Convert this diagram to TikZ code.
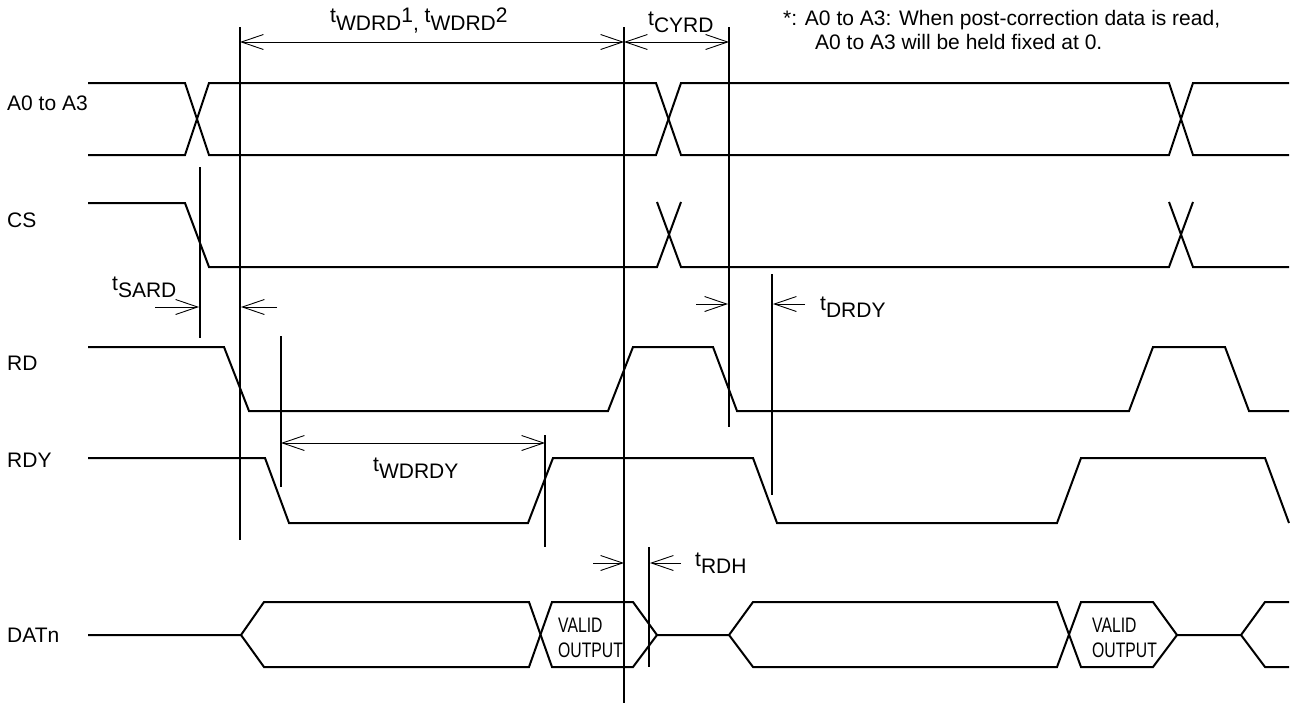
\documentclass[tikz,border=0pt]{standalone}
\usepackage{fontspec}
\setmainfont{Liberation Sans}
\newfontfamily\narrowfont[FakeStretch=0.75]{Liberation Sans}
\usetikzlibrary{arrows.meta}
\newcommand{\tsub}[1]{t\raisebox{-7pt}{#1}}
\begin{document}
\begin{tikzpicture}[x=1pt,y=-1pt,
  sig/.style={line width=2pt, line join=miter},
  guide/.style={line width=1.2pt},
  barb/.tip={Straight Barb[length=22pt,width=15pt]},
  dim/.style={line width=0.9pt, -barb},
  dimboth/.style={line width=0.9pt, barb-barb},
  lbl/.style={anchor=base west, inner sep=0pt, font=\fontsize{21}{25}\selectfont},
  vlbl/.style={anchor=base west, inner sep=0pt, font=\narrowfont\fontsize{21}{24}\selectfont},
  ]
\useasboundingbox (0,0) rectangle (1296,704);

% signal names
\node[lbl] (nA) at (7,110) {A0 to A3};
\node[lbl] (nCS) at (7,227) {CS};
\node[lbl] (nRD) at (7,370) {RD};
\node[lbl] (nRDY) at (7,467) {RDY};
\node[lbl] (nDAT) at (7,642) {DATn};

% A0 to A3
\draw[sig] (88,83) -- (185,83) -- (209,155) -- (656,155) -- (681,83) -- (1169,83) -- (1193,155) -- (1289,155);
\draw[sig] (88,155) -- (185,155) -- (209,83) -- (656,83) -- (681,155) -- (1169,155) -- (1193,83) -- (1289,83);

% CS
\draw[sig] (88,203) -- (185,203) -- (209,267) -- (657,267) -- (681,202);
\draw[sig] (657,202) -- (681,267) -- (1169,267) -- (1193,202);
\draw[sig] (1169,202) -- (1193,267) -- (1289,267);

% RD
\draw[sig] (88,347) -- (224,347) -- (249,411) -- (608,411) -- (633,347) -- (713,347) -- (737,411) -- (1129,411) -- (1153,347) -- (1225,347) -- (1249,411) -- (1289,411);

% RDY
\draw[sig] (88,458) -- (265,458) -- (289,523) -- (528,523) -- (553,458) -- (753,458) -- (777,523) -- (1057,523) -- (1081,458) -- (1265,458) -- (1289,523);

% DATn
\draw[sig] (88,635) -- (241,635) -- (264,602) -- (529,602) -- (552,667) -- (633,667) -- (657,635) -- (729,635) -- (753,602) -- (1057,602) -- (1081,667) -- (1153,667) -- (1177,635) -- (1241,635) -- (1265,602) -- (1289,602);
\draw[sig] (241,635) -- (264,667) -- (529,667) -- (552,602) -- (633,602) -- (657,635);
\draw[sig] (729,635) -- (753,667) -- (1057,667) -- (1081,602) -- (1153,602) -- (1177,635);
\draw[sig] (1241,635) -- (1265,667) -- (1289,667);

\node[vlbl] (v1a) at (558,632) {VALID};
\node[vlbl] (v1b) at (558,657) {OUTPUT};
\node[vlbl] (v2a) at (1092,632) {VALID};
\node[vlbl] (v2b) at (1092,657) {OUTPUT};

% guide lines
\coordinate (g1t) at (240,27);  \coordinate (g1b) at (240,540);
\coordinate (g2t) at (200,167); \coordinate (g2b) at (200,338);
\coordinate (g3t) at (281,336); \coordinate (g3b) at (281,487);
\coordinate (g4t) at (624,27);  \coordinate (g4b) at (624,703);
\coordinate (g5t) at (729,27);  \coordinate (g5b) at (729,427);
\coordinate (g6t) at (772,274); \coordinate (g6b) at (772,495);
\coordinate (g7t) at (545,435); \coordinate (g7b) at (545,547);
\coordinate (g8t) at (649,547); \coordinate (g8b) at (649,667);
\foreach \g in {1,...,8} \draw[guide] (g\g t) -- (g\g b);

% dimension arrows
\coordinate (wA) at (240,42); \coordinate (wB) at (624,42); \coordinate (wC) at (729,42);
\draw[dimboth] (wA) -- (wB);
\draw[dimboth] (wB) -- (wC);

\coordinate (sA) at (155,307); \coordinate (sB) at (199,307);
\coordinate (sC) at (277,307); \coordinate (sD) at (241,307);
\draw[dim] (sA) -- (sB);
\draw[dim] (sC) -- (sD);

\coordinate (dA) at (696,304); \coordinate (dB) at (728,304);
\coordinate (dC) at (805,304); \coordinate (dD) at (773,304);
\draw[dim] (dA) -- (dB);
\draw[dim] (dC) -- (dD);

\coordinate (yA) at (281,443); \coordinate (yB) at (545,443);
\draw[dimboth] (yA) -- (yB);

\coordinate (hA) at (593,563); \coordinate (hB) at (624,563);
\coordinate (hC) at (681,563); \coordinate (hD) at (650,563);
\draw[dim] (hA) -- (hB);
\draw[dim] (hC) -- (hD);

% timing labels
\node[lbl] (tW) at (330,23) {\tsub{WDRD}1\raisebox{-7pt}{,} \tsub{WDRD}2};
\node[lbl] (tC) at (648,25) {\tsub{CYRD}};
\node[lbl] (tS) at (112,290) {\tsub{SARD}};
\node[lbl] (tD) at (820,310) {\tsub{DRDY}};
\node[lbl] (tY) at (373,471) {\tsub{WDRDY}};
\node[lbl] (tH) at (695,566) {\tsub{RDH}};

% note
\node[lbl] (note1) at (783,25) {*: A0 to A3: When post-correction data is read,};
\node[lbl] (note2) at (815,49) {A0 to A3 will be held fixed at 0.};
\end{tikzpicture}
\end{document}
